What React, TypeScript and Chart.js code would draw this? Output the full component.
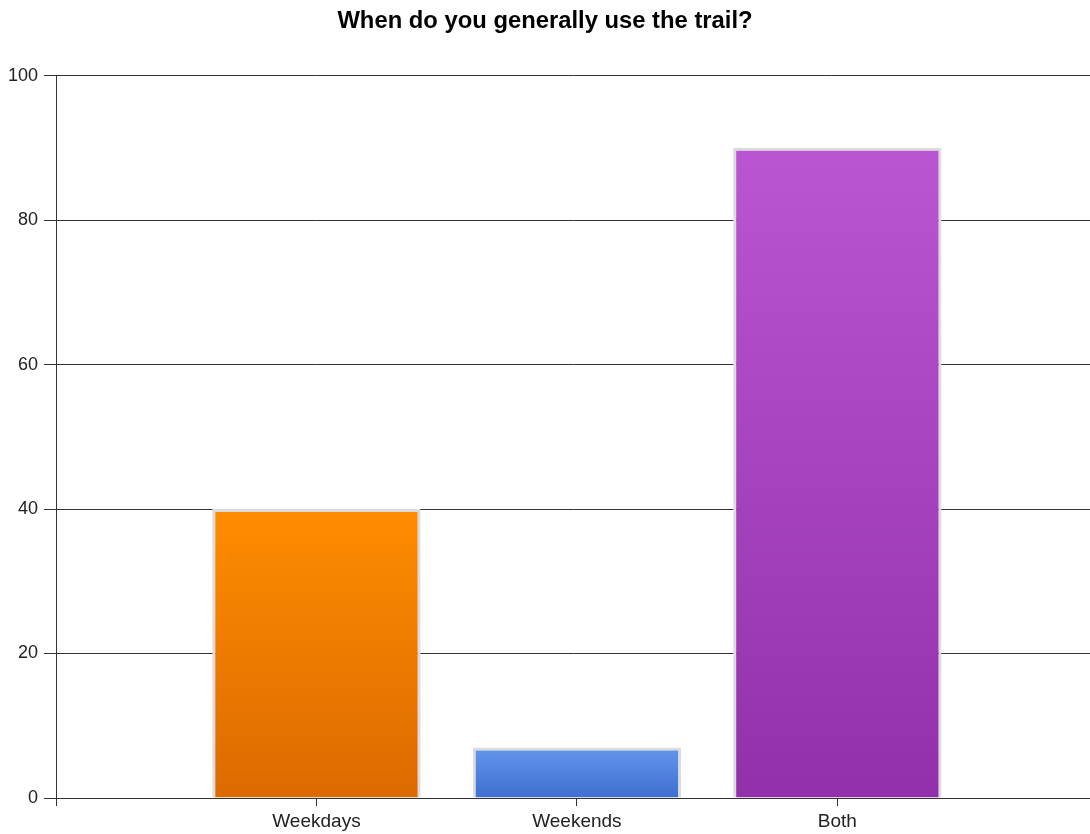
import React, { useEffect, useRef } from 'react';
import { Chart, registerables } from 'chart.js';

Chart.register(...registerables);

const categories = ['Weekdays', 'Weekends', 'Both'];
const values = [40, 7, 90];
const topColors = ['#FF8C00', '#6495ED', '#BA55D3'];
const bottomColors = ['#DC6A00', '#3F6FCF', '#9230AB'];
const yMin = 0;
const yMax = 100;
const yStep = 20;
const xMin = 0;
const xMax = 3.97;
const titleText = 'When do you generally use the trail?';

export default function App() {
  const ref = useRef<HTMLCanvasElement | null>(null);

  useEffect(() => {
    document.body.style.margin = '0';
    const canvas = ref.current;
    if (!canvas) return;

    const bg = (ctx: any) => {
      const chart = ctx.chart;
      const i = ctx.dataIndex;
      const raw = ctx.raw;
      const ys = chart.scales && chart.scales.y;
      if (!chart.chartArea || !ys || !raw) return topColors[i] || '#888';
      const top = ys.getPixelForValue(raw.y);
      const bottom = ys.getPixelForValue(0);
      const g = chart.ctx.createLinearGradient(0, top, 0, bottom);
      g.addColorStop(0, topColors[i]);
      g.addColorStop(1, bottomColors[i]);
      return g;
    };

    const points = values.map((v, i) => ({ x: i + 1, y: v }));

    const chart = new Chart(canvas, {
      type: 'bar',
      data: {
        datasets: [
          {
            data: points as any,
            backgroundColor: bg as any,
            borderColor: '#DCDCDC',
            borderWidth: 3,
            categoryPercentage: 1,
            barPercentage: 0.8,
          },
        ],
      },
      options: {
        animation: false,
        responsive: false,
        devicePixelRatio: 1,
        plugins: {
          legend: { display: false },
          tooltip: { enabled: false },
          title: {
            display: true,
            text: titleText,
            color: '#000',
            font: { family: 'Liberation Sans', size: 23.8, weight: 'bold' },
            padding: { top: 7, bottom: 40 },
          },
        },
        scales: {
          x: {
            type: 'linear',
            min: xMin,
            max: xMax,
            offset: false,
            grid: {
              display: true,
              offset: false,
              drawOnChartArea: false,
              drawTicks: true,
              tickLength: 8,
              color: '#333',
            },
            border: { display: true, color: '#333', width: 1 },
            ticks: {
              color: '#222',
              font: { family: 'Liberation Sans', size: 19 },
              padding: 4,
              maxRotation: 0,
              autoSkip: false,
              callback: (v: any) => (v >= 1 && v <= categories.length ? categories[v - 1] : ''),
            },
            afterBuildTicks: (s: any) => {
              s.ticks = [0, ...categories.map((_, i) => i + 1)].map((v) => ({ value: v }));
            },
            afterFit: (s: any) => {
              s.height = 36;
            },
          },
          y: {
            min: yMin,
            max: yMax,
            ticks: {
              stepSize: yStep,
              color: '#222',
              font: { family: 'Liberation Sans', size: 18 },
              padding: 6,
            },
            grid: {
              color: '#333',
              lineWidth: 1,
              drawTicks: true,
              tickLength: 12,
            },
            border: { display: true, color: '#333', width: 1 },
            afterFit: (s: any) => {
              s.width = 56;
            },
          },
        },
      },
    });

    return () => chart.destroy();
  }, []);

  return (
    <div style={{ width: 1090, height: 834, overflow: 'hidden' }}>
      <canvas ref={ref} width={1090} height={834} style={{ display: 'block' }} />
    </div>
  );
}
